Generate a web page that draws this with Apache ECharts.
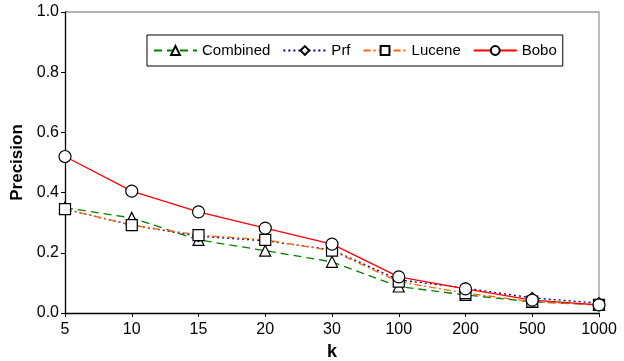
<!DOCTYPE html>
<html>
<head>
<meta charset="utf-8">
<script src="https://cdn.jsdelivr.net/npm/echarts@6/dist/echarts.min.js"></script>
<style>
html, body { margin: 0; padding: 0; background: #fff; }
#container { width: 624px; height: 361px; }
</style>
</head>
<body>
<div id="container"></div>
<script>
const kValues = ['5', '10', '15', '20', '30', '100', '200', '500', '1000']
const combined = [0.35, 0.316, 0.243, 0.207, 0.17, 0.088, 0.06, 0.037, 0.027]
const prf = [0.345, 0.292, 0.255, 0.24, 0.21, 0.11, 0.083, 0.05, 0.033]
const lucene = [0.345, 0.292, 0.259, 0.243, 0.207, 0.104, 0.066, 0.038, 0.027]
const bobo = [0.52, 0.405, 0.336, 0.282, 0.229, 0.12, 0.08, 0.043, 0.027]

const font = 'Liberation Sans, Arial, sans-serif'
const chart = echarts.init(document.getElementById('container'))

const mk = (name, data, color, symbol, dash) => ({
    name: name,
    type: 'line',
    data: data,
    symbol: symbol,
    symbolSize: symbol === 'circle' ? 12 : 11,
    showAllSymbol: true,
    lineStyle: { color: color, width: 1.3, type: dash },
    itemStyle: { color: '#fff', borderColor: '#000', borderWidth: 1.2 },
    emphasis: { disabled: true },
    z: 2
})

chart.setOption({
    backgroundColor: '#fff',
    animation: false,
    textStyle: { fontFamily: font },
    grid: { left: 65, right: 25, top: 12, bottom: 48, outerBoundsMode: 'none', containLabel: false },
    legend: {
        top: 35,
        left: 147,
        itemWidth: 43,
        itemHeight: 11,
        itemGap: 12,
        padding: [8, 6, 8, 6],
        borderColor: '#000',
        borderWidth: 1,
        textStyle: { fontSize: 15, color: '#000', fontFamily: font },
        data: ['Combined', 'Prf', 'Lucene', 'Bobo']
    },
    xAxis: {
        type: 'category',
        data: kValues,
        boundaryGap: false,
        name: 'k',
        nameLocation: 'middle',
        nameGap: 28,
        nameTextStyle: { fontSize: 18, fontWeight: 'bold', color: '#000', fontFamily: font },
        axisLine: { lineStyle: { color: '#000', width: 1.3 } },
        axisTick: { show: true, length: 4, alignWithLabel: true, lineStyle: { color: '#000' } },
        axisLabel: { fontSize: 16, color: '#000', margin: 9 },
        splitLine: { show: false }
    },
    yAxis: {
        type: 'value',
        min: 0,
        max: 1,
        interval: 0.2,
        name: 'Precision',
        nameLocation: 'middle',
        nameGap: 37,
        nameTextStyle: { fontSize: 17, fontWeight: 'bold', color: '#000', fontFamily: font },
        axisLine: { show: true, lineStyle: { color: '#000', width: 1.3 } },
        axisTick: { show: true, length: 4, lineStyle: { color: '#000' } },
        axisLabel: { fontSize: 16, color: '#000', margin: 6, formatter: v => v.toFixed(1) },
        splitLine: { show: false }
    },
    graphic: [{
        type: 'polyline',
        shape: { points: [[65, 12], [599, 12], [599, 313]] },
        style: { stroke: '#999', lineWidth: 1.3, fill: null },
        silent: true
    }],
    series: [
        mk('Combined', combined, '#008000', 'triangle', [8, 5]),
        mk('Prf', prf, '#000080', 'diamond', [2, 3]),
        mk('Lucene', lucene, '#ff6600', 'rect', [7, 3, 2, 3]),
        mk('Bobo', bobo, '#ff0000', 'circle', 'solid')
    ]
})
</script>
</body>
</html>
